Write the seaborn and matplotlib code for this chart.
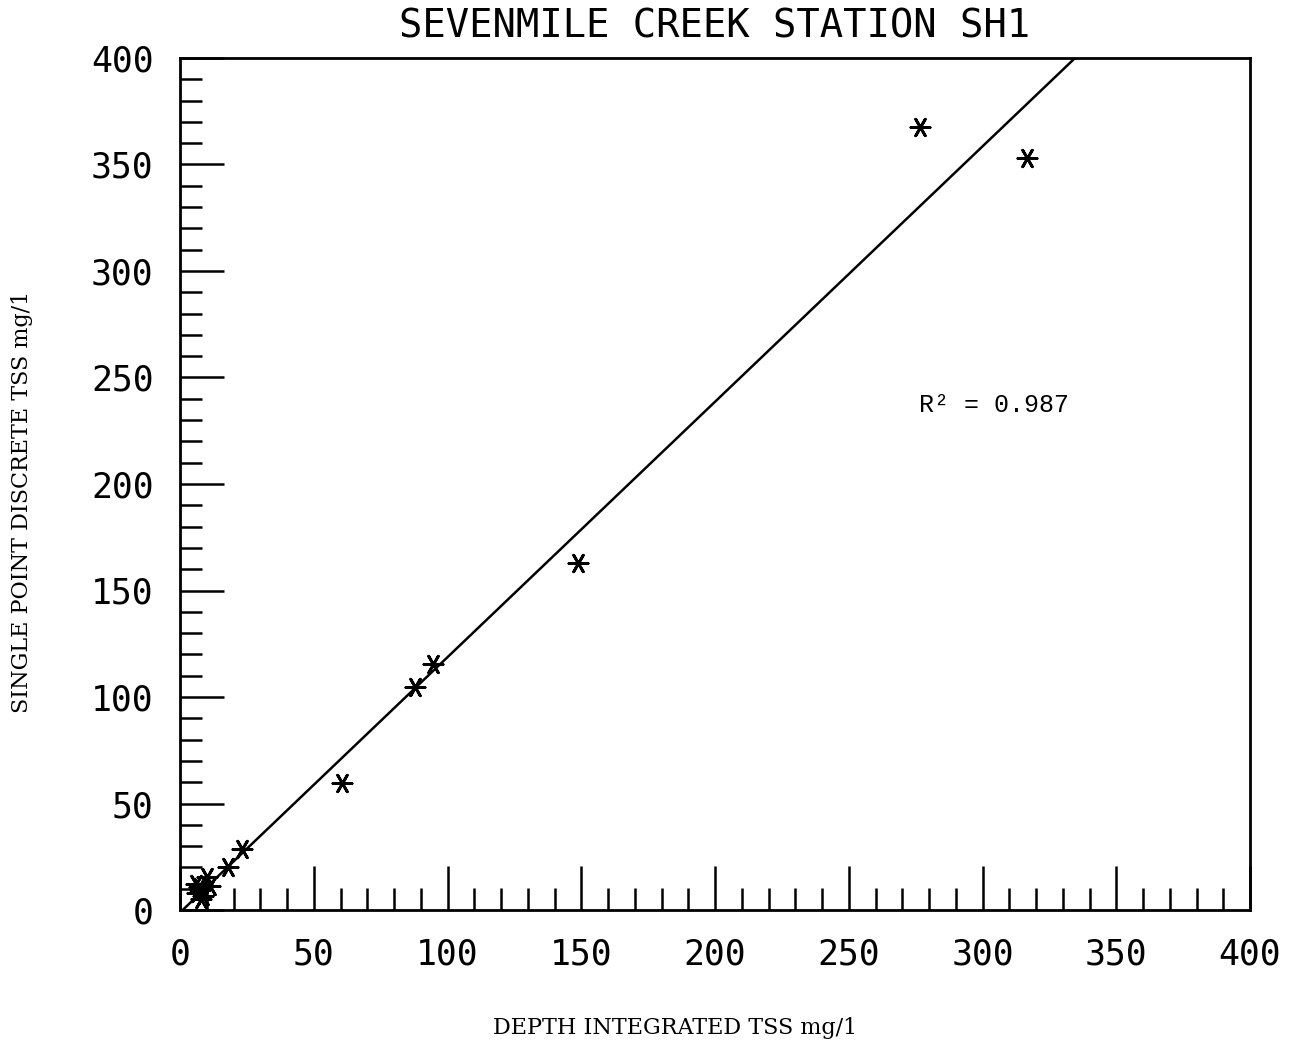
import numpy as np
import pandas as pd
import matplotlib
matplotlib.use("Agg")
import matplotlib.pyplot as plt
import seaborn as sns
from matplotlib.ticker import MultipleLocator

# Data
depth_integrated = [276.6, 316.6, 148.8, 94.6, 87.9, 60.6, 23.2, 17.9, 10.1, 11.2,
                    7.0, 6.5, 8.0, 7.5, 6.0, 8.5]
single_point = [367.6, 353.0, 163.0, 115.5, 104.7, 59.6, 28.6, 20.2, 15.5, 11.3,
                11.0, 8.0, 5.0, 9.5, 12.0, 6.5]
fit_slope = 1.199
fit_intercept = -1.2
r_squared = 0.987
axis_max = 400

df = pd.DataFrame({"x": depth_integrated, "y": single_point})
line_x = np.array([0, axis_max])
line_df = pd.DataFrame({"x": line_x, "y": fit_slope * line_x + fit_intercept})

sns.set_theme(style="white")
plt.rcParams['font.family'] = ['DejaVu Sans Mono', 'DejaVu Sans']
plt.rcParams['text.color'] = 'black'
plt.rcParams['xtick.color'] = 'black'
plt.rcParams['ytick.color'] = 'black'

W, H = 1300, 1047
fig = plt.figure(figsize=(W / 100, H / 100), dpi=100)
ax = fig.add_axes([180 / W, 1 - 910 / H, 1070 / W, 852 / H])

sns.lineplot(data=line_df, x="x", y="y", ax=ax, color="black", linewidth=1.8)
sns.scatterplot(data=df, x="x", y="y", ax=ax, marker=(6, 2, 30), s=190,
                color="black", edgecolor="black", linewidth=2.0)

ax.set_xlim(0, axis_max)
ax.set_ylim(0, axis_max)
ax.xaxis.set_major_locator(MultipleLocator(50))
ax.xaxis.set_minor_locator(MultipleLocator(10))
ax.yaxis.set_major_locator(MultipleLocator(50))
ax.yaxis.set_minor_locator(MultipleLocator(10))
ax.tick_params(which="major", direction="in", length=32, width=1.8,
               labelsize=25, color="black", labelcolor="black")
ax.tick_params(which="minor", direction="in", length=16, width=1.8, color="black")
ax.tick_params(axis="x", which="both", top=False, bottom=True)
ax.tick_params(axis="y", which="both", right=False, left=True)
ax.tick_params(axis="x", which="major", pad=20)
ax.tick_params(axis="y", which="major", pad=19)
for sp in ax.spines.values():
    sp.set_color("black")
    sp.set_linewidth(2)

ax.set_xlabel("")
ax.set_ylabel("")
fig.text(675 / W, 1 - 1028 / H, "DEPTH INTEGRATED TSS mg/1", family=['DejaVu Serif'],
         fontsize=16, ha="center", va="center", color="black")
fig.text(22 / W, 1 - 502 / H, "SINGLE POINT DISCRETE TSS mg/1", family=['DejaVu Serif'],
         fontsize=16, ha="center", va="center", rotation=90, color="black")
fig.text(715 / W, 1 - 26 / H, "SEVENMILE CREEK STATION SH1", fontsize=28,
         ha="center", va="center", color="black")
ax.text(0.691, 0.585, f"R² = {r_squared:.3f}", transform=ax.transAxes,
        family=['Liberation Mono'], fontsize=18, color="black")

fig.savefig("out.png", dpi=100, facecolor="white")
